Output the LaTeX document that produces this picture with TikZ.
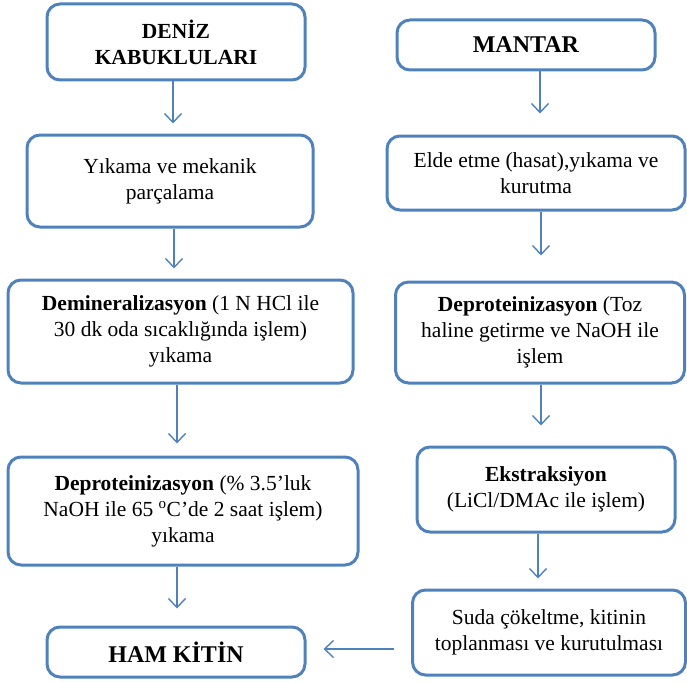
\documentclass[tikz,border=0pt]{standalone}
\usepackage{fontspec}
\setmainfont{Liberation Serif}
\usetikzlibrary{arrows.meta}
\definecolor{boxblue}{RGB}{79,129,189}
\begin{document}
\begin{tikzpicture}[x=1pt,y=-1pt,
  box/.style={draw=boxblue, line width=3pt, rounded corners=13pt, align=center,
    inner sep=0pt, text=black, font=\fontsize{21.5}{26}\selectfont},
  bigfont/.style={font=\fontsize{24}{28}\selectfont},
  arr/.style={draw=boxblue, line width=1.4pt, -{Straight Barb[length=9pt,width=17pt]}}]
\useasboundingbox (0,0) rectangle (687,682);
% left column
\node[box, minimum width=258pt, minimum height=76pt] (n1) at (176,42) {\textbf{DENİZ}\\\textbf{KABUKLULARI}};
\node[box, minimum width=286pt, minimum height=92pt] (n2) at (170,181) {Yıkama ve mekanik\\parçalama};
\node[box, minimum width=345pt, minimum height=103pt] (n3) at (180.5,331.5) {\textbf{Demineralizasyon} (1 N HCl ile\\30 dk oda sıcaklığında işlem)\\yıkama};
\node[box, minimum width=350pt, minimum height=108pt] (n4) at (183,511) {\textbf{Deproteinizasyon} (\% 3.5’luk\\NaOH ile 65 \textsuperscript{o}C’de 2 saat işlem)\\yıkama};
\node[box, bigfont, minimum width=258pt, minimum height=50pt] (n5) at (176,652) {\textbf{HAM KİTİN}};
% right column
\node[box, bigfont, minimum width=258pt, minimum height=50pt] (m1) at (526,45) {\textbf{MANTAR}};
\node[box, minimum width=298pt, minimum height=74pt] (m2) at (536,173) {Elde etme (hasat),yıkama ve\\kurutma};
\node[box, minimum width=289pt, minimum height=101pt] (m3) at (540,332.5) {\textbf{Deproteinizasyon} (Toz\\haline getirme ve NaOH ile\\işlem};
\node[box, minimum width=258pt, minimum height=85pt] (m4) at (546,489.5) {\textbf{Ekstraksiyon}\\(LiCl/DMAc ile işlem)};
\node[box, minimum width=273pt, minimum height=85pt] (m5) at (549,632.5) {Suda çökeltme, kitinin\\toplanması ve kurutulması};
% arrow x positions
\coordinate (a1) at (173,0);
\coordinate (a2) at (174,0);
\coordinate (a3) at (177,0);
\coordinate (b1) at (540,0);
\coordinate (b2) at (541,0);
\coordinate (b3) at (538,0);
% left arrows
\draw[arr, shorten >=10pt] (a1 |- n1.south) -- (a1 |- n2.north);
\draw[arr, shorten >=10pt] (a2 |- n2.south) -- (a2 |- n3.north);
\draw[arr, shorten >=12pt] (a3 |- n3.south) -- (a3 |- n4.north);
\draw[arr, shorten >=17pt] (a3 |- n4.south) -- (a3 |- n5.north);
% right arrows
\draw[arr, shorten >=21pt] (b1 |- m1.south) -- (b1 |- m2.north);
\draw[arr, shorten >=25pt] (b2 |- m2.south) -- (b2 |- m3.north);
\draw[arr, shorten >=20pt] (b2 |- m3.south) -- (b2 |- m4.north);
\draw[arr, shorten >=10pt] (b3 |- m4.south) -- (b3 |- m5.north);
% horizontal arrow
\draw[arr, shorten <=17pt, shorten >=17pt] ([yshift=3pt]m5.west |- n5.east) -- ([yshift=3pt]n5.east);
\end{tikzpicture}
\end{document}
